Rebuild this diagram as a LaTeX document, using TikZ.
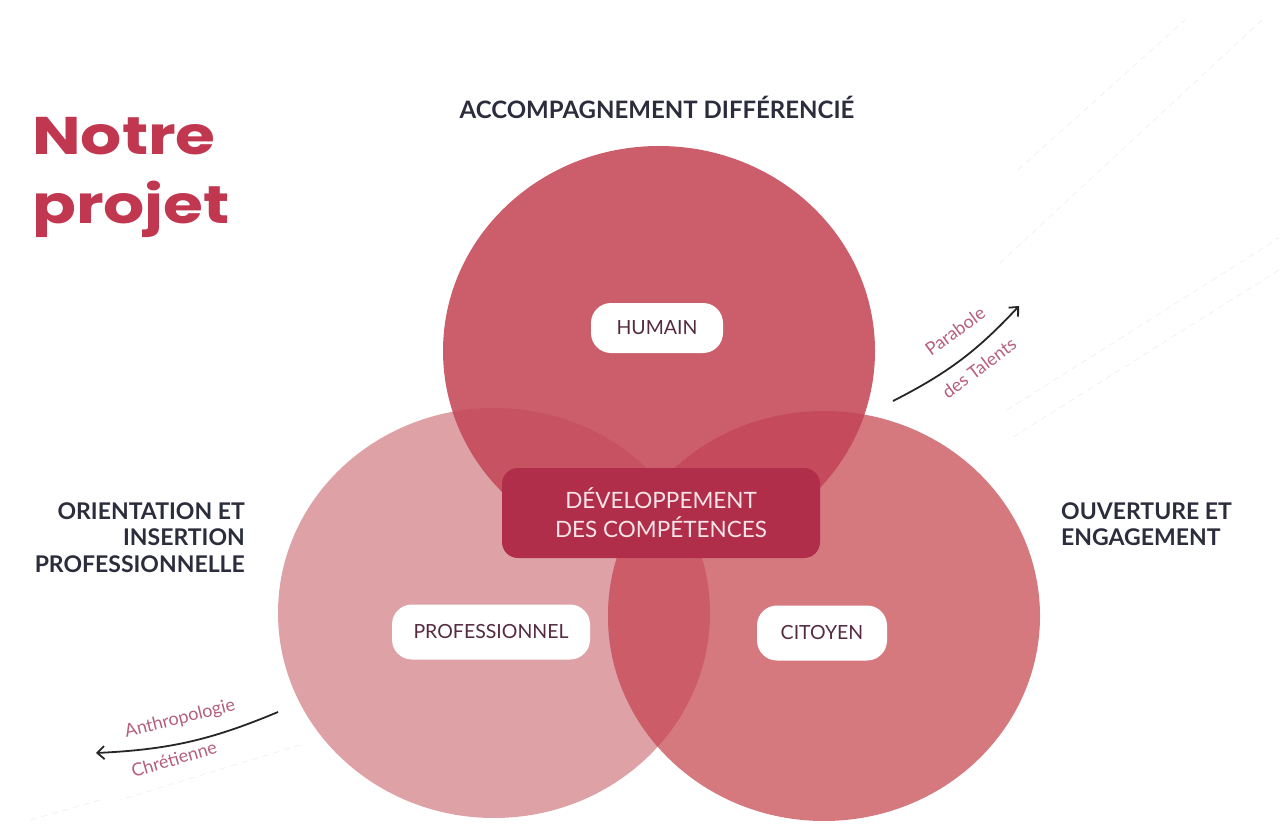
\documentclass[tikz,border=0pt]{standalone}
\usepackage{fontspec}
\setmainfont{Lato}
\newfontfamily\titlefont{Poppins}
\usetikzlibrary{arrows.meta}
\definecolor{cT}{HTML}{CB5E6A}
\definecolor{cL}{HTML}{DEA2A6}
\definecolor{cR}{HTML}{D5797F}
\definecolor{cTL}{HTML}{C65262}
\definecolor{cTR}{HTML}{C54A5B}
\definecolor{cLR}{HTML}{CC5C68}
\definecolor{cTLR}{HTML}{BF4152}
\definecolor{cBox}{HTML}{B02E4A}
\definecolor{cTitle}{HTML}{C1374F}
\definecolor{cLabel}{HTML}{2B2D3C}
\definecolor{cPill}{HTML}{552B42}
\definecolor{cNote}{HTML}{B5607A}
\definecolor{cBoxTxt}{HTML}{F8E4E8}
\tikzset{
  ell/.style={x radius=216, y radius=205},
  pill/.style={fill=white, rounded corners=20pt, minimum height=50pt, text=cPill, font=\fontsize{19.5}{22}\selectfont, inner xsep=0pt},
  sidelabel/.style={text=cLabel, font=\bfseries\fontsize{23}{26.5}\selectfont, inner sep=0pt},
  titletext/.style={text=cTitle, font=\titlefont\bfseries\fontsize{53}{60}\selectfont, inner sep=0pt, anchor=base west},
  note/.style={text=cNote, font=\fontsize{18}{20}\selectfont, inner sep=0pt},
  faint/.style={draw=gray!12, line width=0.8pt, dash pattern=on 6pt off 5pt},
  curvedarrow/.style={draw=black!85, line width=1.8pt, -{Straight Barb[length=7pt, width=13pt]}}
}
\begin{document}
\begin{tikzpicture}[x=1pt, y=-1pt]
\useasboundingbox (0,0) rectangle (1279,829);
% faint background lines
\draw[faint] (1018,170) -- (1185,20);
\draw[faint] (1000,263) -- (1262,20);
\draw[faint] (1007,410) -- (1279,238);
\draw[faint] (1013,437) -- (1279,270);
\draw[faint] (300,745) -- (120,800);
\draw[faint] (100,800) -- (30,820);
% circles
\coordinate (T) at (659,351);
\coordinate (L) at (494,613);
\coordinate (R) at (824,616);
\fill[cL] (L) ellipse[ell];
\fill[cR] (R) ellipse[ell];
\fill[cT] (T) ellipse[ell];
\begin{scope}
  \clip (L) ellipse[ell];
  \fill[cTL] (T) ellipse[ell];
  \fill[cLR] (R) ellipse[ell];
\end{scope}
\begin{scope}
  \clip (R) ellipse[ell];
  \fill[cTR] (T) ellipse[ell];
\end{scope}
\begin{scope}
  \clip (L) ellipse[ell];
  \clip (R) ellipse[ell];
  \fill[cTLR] (T) ellipse[ell];
\end{scope}
% title
\node[titletext] (title1) at (32,155) {\scalebox{1.22}[1]{Notre}};
\node[titletext] (title2) at (32,223) {\scalebox{1.22}[1]{projet}};
% side labels
\node[sidelabel, font=\bfseries\fontsize{24}{27}\selectfont] (acc) at (657,107) {ACCOMPAGNEMENT DIFFÉRENCIÉ};
\node[sidelabel, anchor=north east, align=right] (orient) at (245,502) {ORIENTATION ET\\INSERTION\\PROFESSIONNELLE};
\node[sidelabel, anchor=north west, align=left] (ouv) at (1061,502) {OUVERTURE ET\\ENGAGEMENT};
% pills
\node[pill, minimum width=132pt] (hum) at (657,328) {HUMAIN};
\node[pill, minimum width=198pt, minimum height=55pt] (pro) at (491,632) {PROFESSIONNEL};
\node[pill, minimum width=130pt, minimum height=55pt] (cit) at (822,633) {CITOYEN};
% center box
\node[fill=cBox, rounded corners=16pt, minimum width=318pt, minimum height=90pt, text=cBoxTxt, font=\fontsize{22.5}{29}\selectfont, align=center] (dev) at (661,513) {DÉVELOPPEMENT\\DES COMPÉTENCES};
% arrows
\coordinate (pa1) at (893,401);
\coordinate (pa2) at (1019,306);
\draw[curvedarrow] (pa1) to[bend right=10] (pa2);
\node[note, rotate=36] (parab) at (955,331) {Parabole};
\node[note, rotate=37] (talents) at (979,368) {des Talents};
\coordinate (aa1) at (278,712);
\coordinate (aa2) at (96,753);
\draw[curvedarrow] (aa1) to[bend left=10] (aa2);
\node[note, rotate=14] (anthro) at (180,719) {Anthropologie};
\node[note, rotate=16] (chret) at (174,759) {Chrétienne};
\end{tikzpicture}
\end{document}
